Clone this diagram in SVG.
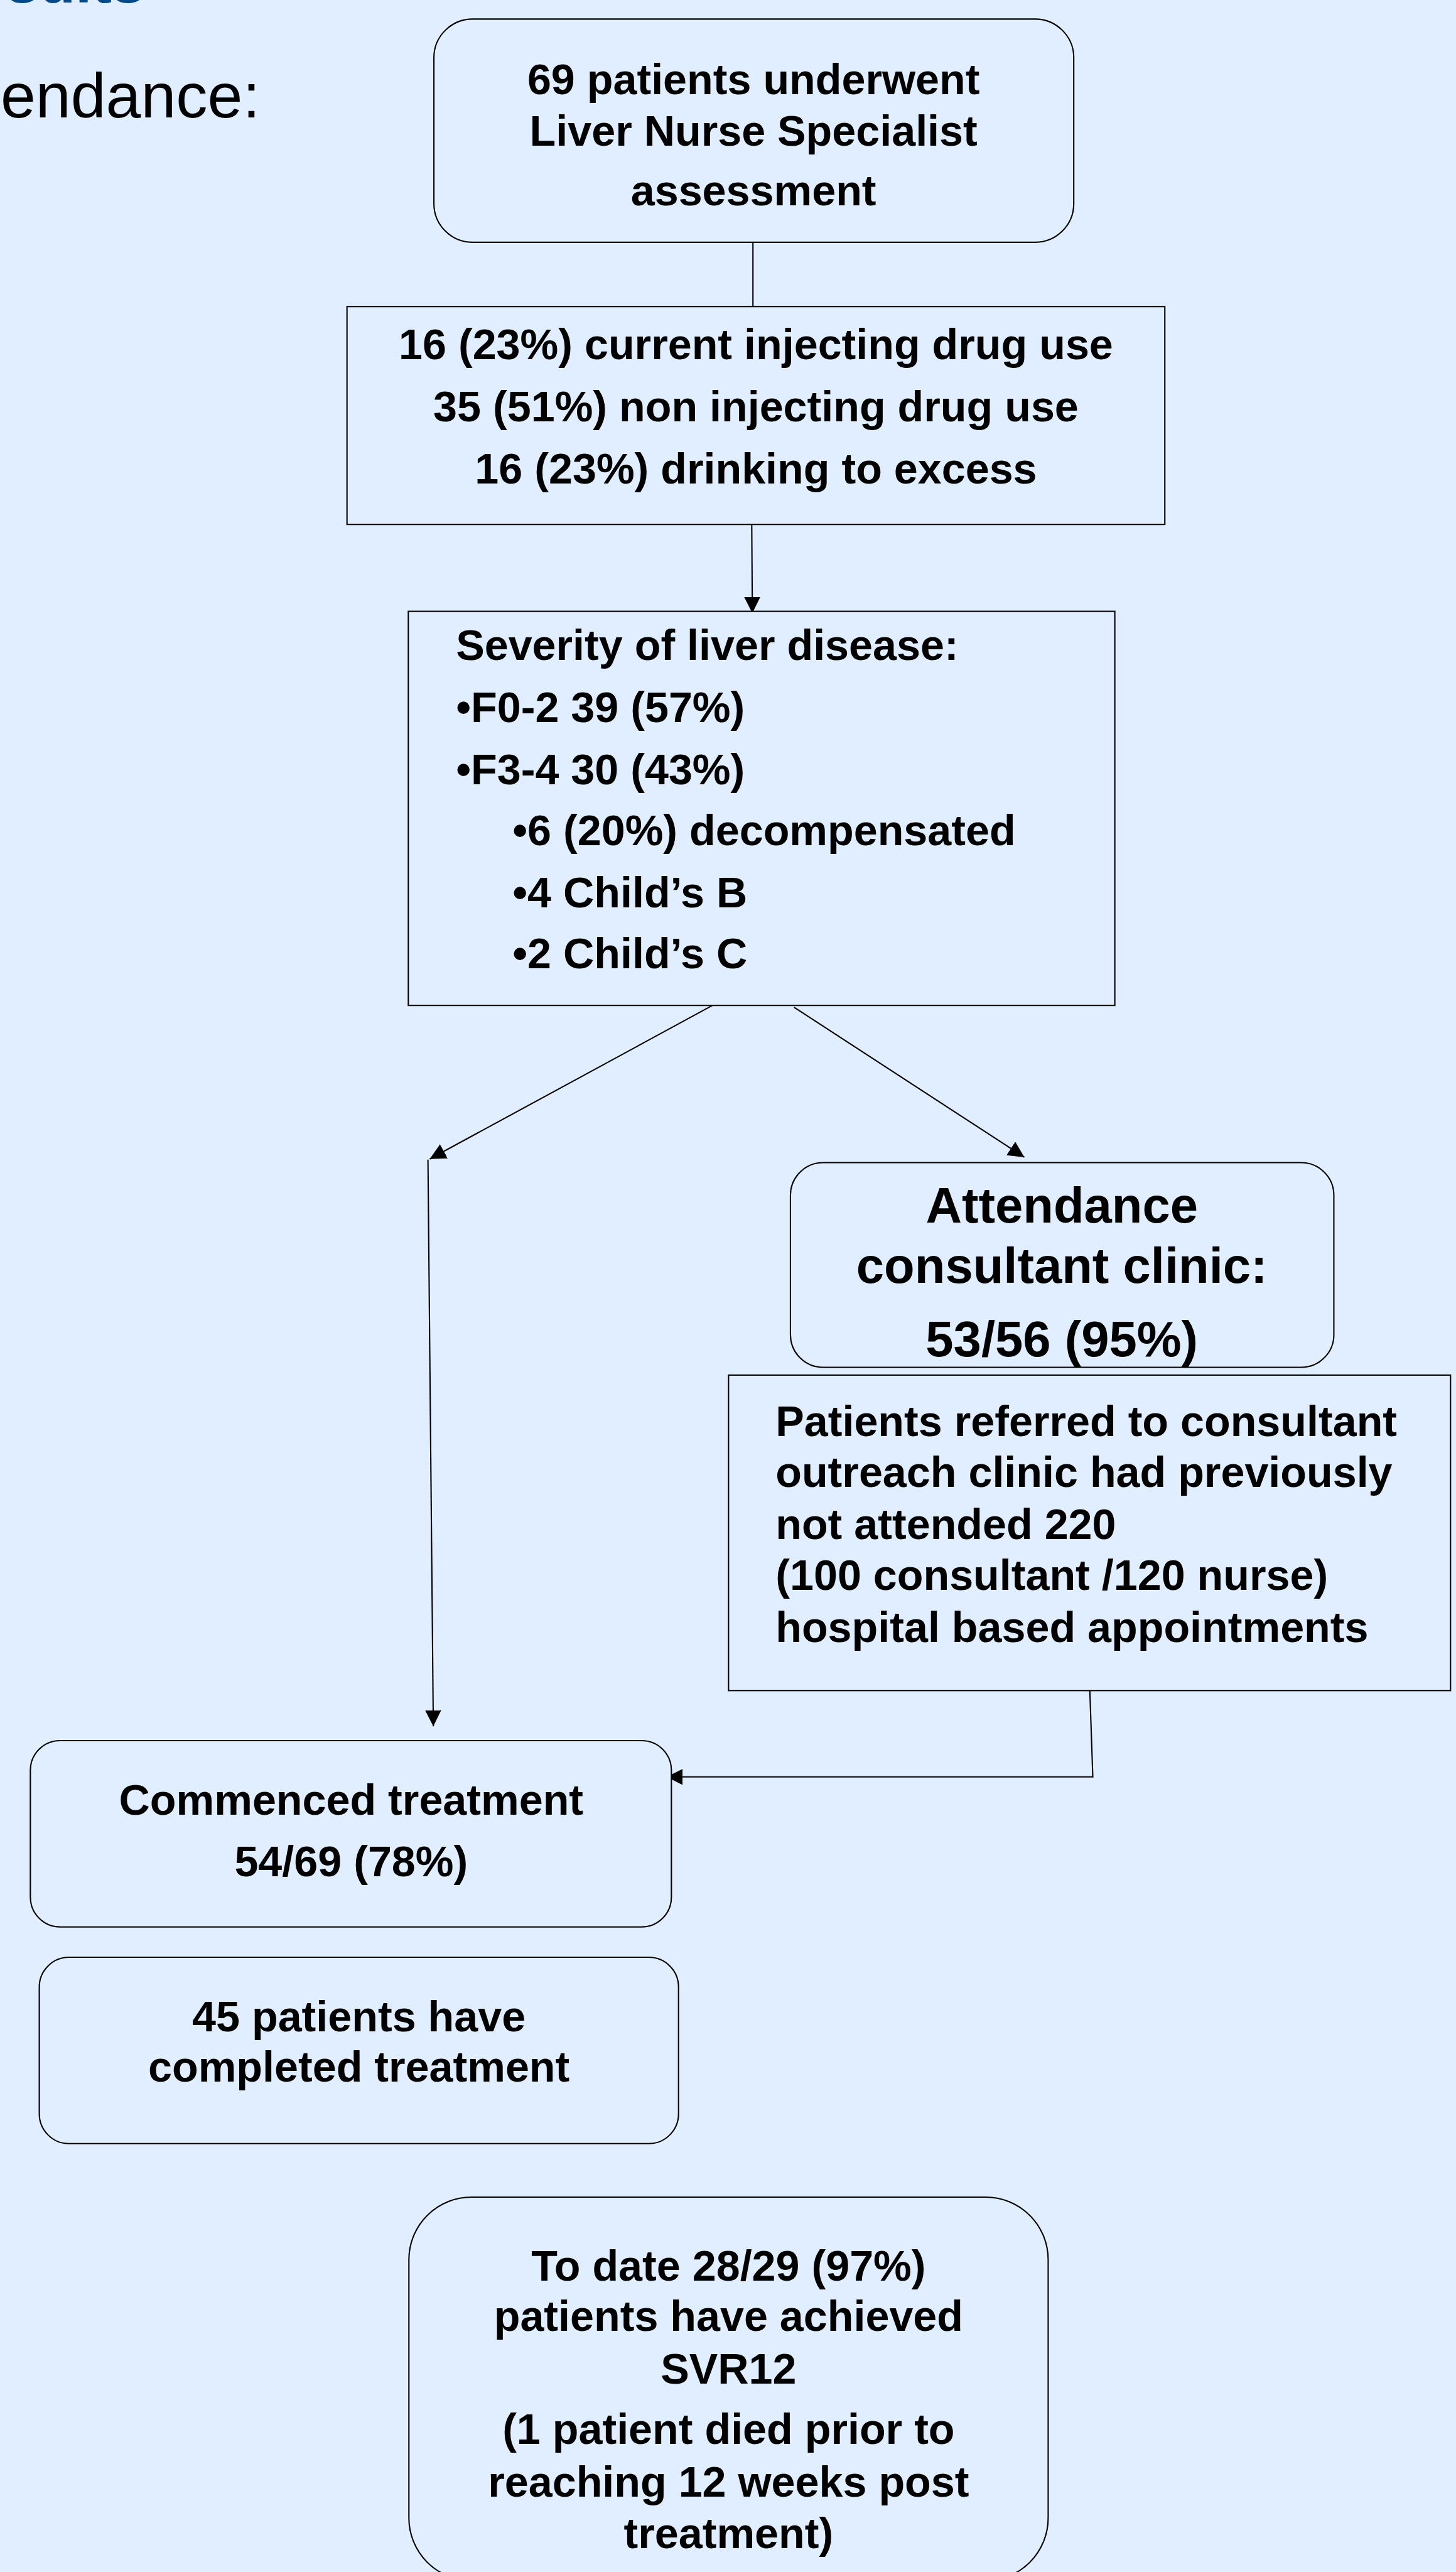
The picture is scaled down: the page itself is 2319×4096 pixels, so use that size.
<svg xmlns="http://www.w3.org/2000/svg" width="2319" height="4096" viewBox="0 0 2319 4096">
<style>
.bx{fill:#E0EEFF;stroke:#000;stroke-width:2.2}
.t{font-family:"Liberation Sans",Arial,sans-serif;font-weight:bold;font-size:72px;fill:#000}
.c{text-anchor:middle}
.big{font-size:84px}
.cn{fill:none;stroke:#000;stroke-width:2.2}
</style>
<defs>
<marker id="ah" markerUnits="userSpaceOnUse" markerWidth="28" markerHeight="28" refX="27" refY="13.5" orient="auto" viewBox="0 0 28 28">
<path d="M0,0 L27,13.5 L0,27 z" fill="#000"/>
</marker>
</defs>
<rect x="0" y="0" width="2319" height="4096" fill="#E0EEFF"/>
<g transform="scale(0.948)">
<text x="10" y="4" font-family="Liberation Sans,Arial,sans-serif" font-weight="bold" font-size="100" fill="#004A8C">sults</text>
<text x="1" y="197" font-family="Liberation Sans,Arial,sans-serif" font-size="106" fill="#000">endance:</text>

<g id="connectors">
<line class="cn" x1="1265" y1="407" x2="1265" y2="515"/>
<line class="cn" x1="1263" y1="881" x2="1264" y2="1030" marker-end="url(#ah)"/>
<line class="cn" x1="1197" y1="1689" x2="722" y2="1947" marker-end="url(#ah)"/>
<line class="cn" x1="1334" y1="1692" x2="1721" y2="1944" marker-end="url(#ah)"/>
<line class="cn" x1="719" y1="1948" x2="728" y2="2900" marker-end="url(#ah)"/>
<path class="cn" d="M1831,2840 L1836,2985 L1120,2985" marker-end="url(#ah)"/>
</g>

<g id="n1">
<rect class="bx" x="729" y="32" width="1075" height="375" rx="65" ry="65"/>
<text class="t c" x="1266" y="158">69 patients underwent</text>
<text class="t c" x="1266" y="245">Liver Nurse Specialist</text>
<text class="t c" x="1266" y="345">assessment</text>
</g>

<g id="n2">
<rect class="bx" x="583" y="515" width="1374" height="366"/>
<text class="t c" x="1270" y="603">16 (23%) current injecting drug use</text>
<text class="t c" x="1270" y="708">35 (51%) non injecting drug use</text>
<text class="t c" x="1270" y="812">16 (23%) drinking to excess</text>
</g>

<g id="n3">
<rect class="bx" x="686" y="1027" width="1187" height="662"/>
<text class="t" x="766" y="1109">Severity of liver disease:</text>
<text class="t" x="766" y="1213">•F0-2 39 (57%)</text>
<text class="t" x="766" y="1317">•F3-4 30 (43%)</text>
<text class="t" x="861" y="1420">•6 (20%) decompensated</text>
<text class="t" x="861" y="1524">•4 Child’s B</text>
<text class="t" x="861" y="1627">•2 Child’s C</text>
</g>

<g id="n4">
<rect class="bx" x="1328" y="1953" width="913" height="344" rx="55" ry="55"/>
<text class="t c big" x="1784" y="2054">Attendance</text>
<text class="t c big" x="1784" y="2155">consultant clinic:</text>
<text class="t c big" x="1784" y="2279">53/56 (95%)</text>
</g>

<g id="n5">
<rect class="bx" x="1224" y="2310" width="1213" height="530"/>
<text class="t" x="1303" y="2412">Patients referred to consultant</text>
<text class="t" x="1303" y="2498">outreach clinic had previously</text>
<text class="t" x="1303" y="2585">not attended 220</text>
<text class="t" x="1303" y="2671">(100 consultant /120 nurse)</text>
<text class="t" x="1303" y="2758">hospital based appointments</text>
</g>

<g id="n6">
<rect class="bx" x="51" y="2924" width="1077" height="313" rx="50" ry="50"/>
<text class="t c" x="590" y="3048">Commenced treatment</text>
<text class="t c" x="590" y="3152">54/69 (78%)</text>
</g>

<g id="n7">
<rect class="bx" x="66" y="3288" width="1074" height="313" rx="50" ry="50"/>
<text class="t c" x="603" y="3412">45 patients have</text>
<text class="t c" x="603" y="3497">completed treatment</text>
</g>

<g id="n8">
<rect class="bx" x="687" y="3691" width="1074" height="644" rx="105" ry="105"/>
<text class="t c" x="1224" y="3831">To date 28/29 (97%)</text>
<text class="t c" x="1224" y="3916">patients have achieved</text>
<text class="t c" x="1224" y="4004">SVR12</text>
<text class="t c" x="1224" y="4106">(1 patient died prior to</text>
<text class="t c" x="1224" y="4194">reaching 12 weeks post</text>
<text class="t c" x="1224" y="4281">treatment)</text>
</g>
</g>
</svg>
